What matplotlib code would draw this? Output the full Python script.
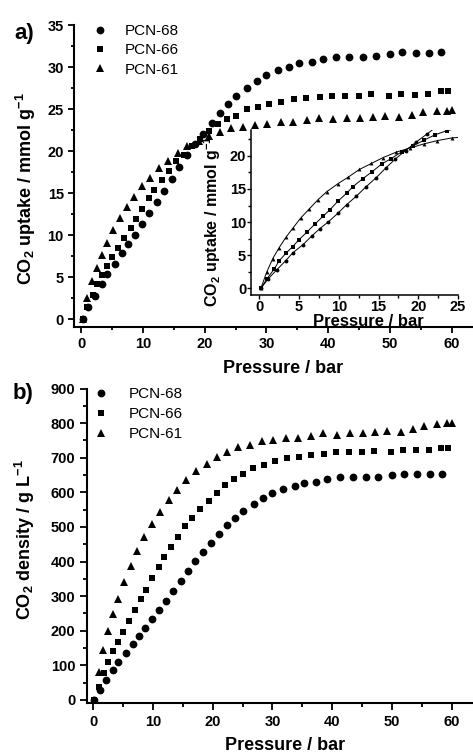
import matplotlib
matplotlib.use("Agg")
import matplotlib.pyplot as plt
from matplotlib.ticker import MultipleLocator

plt.rcParams['font.family'] = ['Liberation Sans', 'DejaVu Sans']
plt.rcParams['font.weight'] = 'bold'
plt.rcParams['mathtext.fontset'] = 'custom'
plt.rcParams['mathtext.rm'] = 'Liberation Sans:bold'
plt.rcParams['mathtext.it'] = 'Liberation Sans:bold'
plt.rcParams['mathtext.bf'] = 'Liberation Sans:bold'
plt.rcParams['mathtext.default'] = 'rm'

# ---------------- data ----------------
series_names = ["PCN-68", "PCN-66", "PCN-61"]

p68 = [0.2, 1.1, 2.2, 3.3, 4.2, 5.5, 6.6, 7.6, 8.7, 9.9, 11.0, 12.2, 13.4, 14.7, 15.9,
       17.1, 18.4, 19.7, 21.1, 22.4, 23.7, 25.1, 26.9, 28.4, 30.0, 31.8, 33.7, 35.3,
       37.3, 39.2, 41.3, 43.4, 45.6, 47.7, 50.0, 52.0, 54.2, 56.4, 58.3]
u68 = [0, 1.4, 2.8, 4.15, 5.35, 6.6, 7.9, 9.0, 10.05, 11.35, 12.65, 13.9, 15.3, 16.7,
       18.15, 19.5, 20.8, 22.05, 23.3, 24.5, 25.6, 26.6, 27.45, 28.3, 29.1, 29.65, 30.05,
       30.45, 30.65, 31.0, 31.25, 31.25, 31.25, 31.35, 31.55, 31.75, 31.65, 31.65, 31.75]
d68 = [0, 29, 58, 86, 111, 137, 162, 185, 207, 233, 260, 287, 315, 344, 374, 401, 429,
       455, 480, 505, 527, 547, 566, 583, 599, 611, 619, 628, 631, 639, 644, 644, 644,
       645, 649, 654, 652, 652, 654]

p66 = [0.2, 0.95, 1.85, 2.5, 3.35, 4.2, 5.0, 6.0, 7.0, 8.0, 8.9, 9.9, 11.0, 11.8, 13.0,
       14.2, 15.4, 16.6, 17.9, 19.3, 20.7, 22.1, 23.6, 25.1, 26.8, 28.6, 30.4, 32.4, 34.4,
       36.4, 38.7, 40.6, 42.8, 45.0, 47.0, 49.8, 51.8, 54.0, 56.2, 58.2, 59.4]
u66 = [0, 1.42, 2.87, 4.14, 5.3, 6.3, 7.35, 8.5, 9.7, 10.86, 11.87, 13.17, 14.37, 15.37,
       16.53, 17.61, 18.77, 19.59, 20.6, 21.49, 22.35, 23.17, 23.8, 24.2, 25.0, 25.3, 25.6,
       25.9, 26.2, 26.35, 26.4, 26.55, 26.55, 26.6, 26.75, 26.6, 26.75, 26.7, 26.8, 27.1, 27.2]
d66 = [0, 38, 77, 111, 142, 169, 197, 228, 260, 291, 318, 353, 385, 412, 443, 472, 503,
       525, 552, 576, 599, 621, 638, 653, 670, 679, 692, 699, 703, 708, 711, 716, 717, 718,
       720, 718, 722, 722, 723, 729, 729]

p61 = [0.2, 0.95, 1.7, 2.5, 3.35, 4.2, 5.2, 6.3, 7.4, 8.5, 9.9, 11.2, 12.6, 14.1, 15.6,
       17.2, 19.0, 20.7, 22.4, 24.2, 26.2, 28.2, 30.1, 32.3, 34.3, 36.5, 38.5, 40.8, 43.0,
       45.1, 47.2, 49.2, 51.5, 53.5, 55.4, 57.6, 59.2, 60.0]
u61 = [0, 2.5, 4.5, 6.15, 7.7, 9.05, 10.6, 12.0, 13.4, 14.6, 15.8, 16.8, 17.95, 18.85,
       19.75, 20.55, 21.2, 21.8, 22.3, 22.7, 22.9, 23.1, 23.25, 23.45, 23.5, 23.7, 23.9,
       23.85, 23.9, 23.9, 24.05, 24.2, 24.1, 24.3, 24.6, 24.8, 24.8, 24.9]
d61 = [0, 80, 145, 198, 248, 292, 341, 386, 432, 470, 509, 542, 578, 607, 636, 662, 683,
       702, 718, 730, 737, 749, 751, 756, 758, 763, 771, 766, 771, 771, 774, 778, 775, 782,
       792, 797, 800, 801]

markers = ['o', 's', '^']
msizes = [5.6, 5.0, 6.0]

W, H = 473, 753
fig = plt.figure(figsize=(W / 100, H / 100), dpi=100)


def frac_box(left, top, right, bottom):
    return [left / W, 1 - bottom / H, (right - left) / W, (bottom - top) / H]


def style_axes(ax, lw=1.5, maj=4.0, mnr=2.5, tw=1.3, pad=2.0, size=10.5):
    for s in ['top', 'right']:
        ax.spines[s].set_visible(False)
    for s in ['left', 'bottom']:
        ax.spines[s].set_linewidth(lw)
    ax.tick_params(which='major', direction='out', length=maj, width=tw,
                   labelsize=size, pad=pad)
    ax.tick_params(which='minor', direction='out', length=mnr, width=tw)
    for lab in ax.get_xticklabels() + ax.get_yticklabels():
        lab.set_fontweight('bold')


# ---------------- panel a ----------------
ax1 = fig.add_axes(frac_box(73.5, 25, 473, 327))
xs_a = [p68, p66, p61]
ys_a = [u68, u66, u61]
for x, y, m, ms, name in zip(xs_a, ys_a, markers, msizes, series_names):
    ax1.plot(x, y, linestyle='none', marker=m, ms=ms, color='k', mew=0, label=name)
ax1.set_xlim(-1.26, 63.46)
ax1.set_ylim(-0.92, 35)
ax1.xaxis.set_major_locator(MultipleLocator(10))
ax1.xaxis.set_minor_locator(MultipleLocator(5))
ax1.yaxis.set_major_locator(MultipleLocator(5))
ax1.yaxis.set_minor_locator(MultipleLocator(2.5))
style_axes(ax1, pad=3.0)
ax1.set_xlabel('Pressure / bar', fontsize=13, fontweight='bold')
ax1.xaxis.set_label_coords((283 - 73.5) / 399.5, (327 - 360) / 302)
ax1.set_ylabel('CO$_2$ uptake / mmol g$^{-1}$', fontsize=13, fontweight='bold')
ax1.yaxis.set_label_coords((38 - 73.5) / 399.5, (327 - 189) / 302)
ax1.legend(loc='upper left', bbox_to_anchor=(92.5 / W, 1 - 24 / H),
           bbox_transform=fig.transFigure, frameon=False, borderpad=0,
           borderaxespad=0, handlelength=1.0, handletextpad=1.1, labelspacing=0.35,
           prop={'family': 'Liberation Sans', 'weight': 'normal', 'size': 11})
fig.text(14 / W, 1 - 34 / H, 'a)', fontsize=16, fontweight='bold', va='center', ha='left')

# inset
axi = fig.add_axes(frac_box(251, 130, 458, 295))
axi.set_facecolor('white')
for x, y, m in zip(xs_a, ys_a, markers):
    axi.plot(x, y, linestyle='-', lw=0.7, marker=m, ms=2.8, color='k', mew=0)
axi.set_xlim(-1.04, 25)
axi.set_ylim(-1.0, 23.9)
axi.xaxis.set_major_locator(MultipleLocator(5))
axi.xaxis.set_minor_locator(MultipleLocator(2.5))
axi.yaxis.set_major_locator(MultipleLocator(5))
axi.yaxis.set_minor_locator(MultipleLocator(2.5))
style_axes(axi, lw=1.1, maj=3.0, mnr=2.0, tw=1.0, pad=0.5, size=10.5)
axi.set_xlabel('Pressure / bar', fontsize=12, fontweight='bold')
axi.xaxis.set_label_coords((368 - 251) / 207, (295 - 313.5) / 165)
axi.set_ylabel('CO$_2$ uptake / mmol g$^{-1}$', fontsize=11.5, fontweight='bold')
axi.yaxis.set_label_coords((223 - 251) / 207, (295 - 221) / 165)

# ---------------- panel b ----------------
ax2 = fig.add_axes(frac_box(87.3, 388.6, 473, 703))
ys_b = [d68, d66, d61]
for x, y, m, ms, name in zip(xs_a, ys_b, markers, msizes, series_names):
    ax2.plot(x, y, linestyle='none', marker=m, ms=ms, color='k', mew=0, label=name)
ax2.set_xlim(-1.0, 63.57)
ax2.set_ylim(-8.7, 900)
ax2.xaxis.set_major_locator(MultipleLocator(10))
ax2.xaxis.set_minor_locator(MultipleLocator(5))
ax2.yaxis.set_major_locator(MultipleLocator(100))
ax2.yaxis.set_minor_locator(MultipleLocator(50))
style_axes(ax2, maj=5.0, mnr=3.0, pad=3.5)
ax2.set_xlabel('Pressure / bar', fontsize=13, fontweight='bold')
ax2.xaxis.set_label_coords((285 - 87.3) / 385.7, (703 - 737) / 314.4)
ax2.set_ylabel('CO$_2$ density / g L$^{-1}$', fontsize=13, fontweight='bold')
ax2.yaxis.set_label_coords((37 - 87.3) / 385.7, (703 - 540) / 314.4)
ax2.legend(loc='upper left', bbox_to_anchor=(93.5 / W, 1 - 387 / H),
           bbox_transform=fig.transFigure, frameon=False, borderpad=0,
           borderaxespad=0, handlelength=1.0, handletextpad=1.3, labelspacing=0.4,
           prop={'family': 'Liberation Sans', 'weight': 'normal', 'size': 11})
fig.text(13 / W, 1 - 394 / H, 'b)', fontsize=16, fontweight='bold', va='center', ha='left')

fig.savefig('out.png', dpi=100)
